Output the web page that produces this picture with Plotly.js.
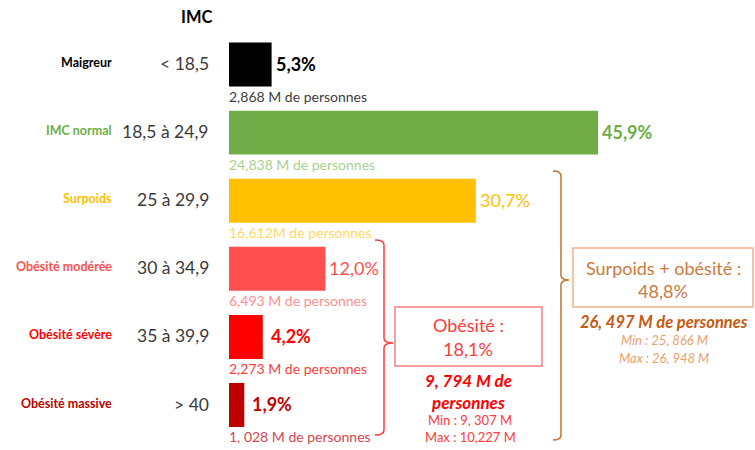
<!DOCTYPE html>
<html>
<head>
<meta charset="utf-8">
<script src="https://cdn.plot.ly/plotly-3.0.1.min.js"></script>
<style>
  html, body { margin: 0; padding: 0; background: #ffffff; }
  #chart { width: 755px; height: 450px; }
</style>
</head>
<body>
<div id="chart"></div>
<script>
// IMC categories, shares and headcounts
const categories = ['Maigreur', 'IMC normal', 'Surpoids', 'Obésité modérée', 'Obésité sévère', 'Obésité massive'];
const imcRanges = ['< 18,5', '18,5 à 24,9', '25 à 29,9', '30 à 34,9', '35 à 39,9', '> 40'];
const shares = [5.3, 45.9, 30.7, 12.0, 4.2, 1.9];
const shareLabels = ['5,3%', '45,9%', '30,7%', '12,0%', '4,2%', '1,9%'];
const shareBold = [true, true, false, false, true, true];
const persons = ['2,868 M de personnes', '24,838 M de personnes', '16,612M de personnes',
    '6,493 M de personnes', '2,273 M de personnes', '1, 028 M de personnes'];
const barColors = ['#000000', '#70AD47', '#FFC000', '#FF5050', '#FF0000', '#C00000'];
const personColors = ['#404040', '#A9D18E', '#FFD966', '#FF8F8F', '#FF4040', '#D94452'];

const FONT = 'Lato, "Open Sans", sans-serif';

// plot area in pixels (margins), used to place the side notes
const M = { l: 229, r: 0, t: 30, b: 4 };
const W = 755 - M.l - M.r;
const H = 450 - M.t - M.b;
const px = x => (x - M.l) / W;
const py = y => (450 - M.b - y) / H;

const trace = {
    type: 'bar',
    orientation: 'h',
    x: shares,
    y: categories,
    width: 0.646,
    marker: { color: barColors },
    hoverinfo: 'skip'
};

const annotations = [];

// column header
annotations.push({
    xref: 'paper', yref: 'paper', x: px(196), y: py(17), xanchor: 'center', yanchor: 'middle',
    text: '<b>IMC</b>', showarrow: false,
    font: { family: FONT, size: 16.5, color: '#000000' }
});

categories.forEach((cat, i) => {
    // category name
    annotations.push({
        xref: 'paper', yref: 'y', x: px(114), y: cat, xanchor: 'right', yanchor: 'middle', yshift: 2,
        text: '<b>' + cat + '</b>', showarrow: false,
        font: { family: FONT, size: 12.5, color: barColors[i] }
    });
    // IMC range
    annotations.push({
        xref: 'paper', yref: 'y', x: px(211), y: cat, xanchor: 'right', yanchor: 'middle', yshift: 1,
        text: imcRanges[i], showarrow: false,
        font: { family: FONT, size: 17.5, color: '#3a3a3a' }
    });
    // share at the end of the bar
    annotations.push({
        xref: 'x', yref: 'y', x: shares[i], y: cat, xanchor: 'left', yanchor: 'middle',
        xshift: shares[i] < 5 ? 6 : 2, yshift: 1,
        text: shareBold[i] ? '<b>' + shareLabels[i] + '</b>' : shareLabels[i], showarrow: false,
        font: { family: FONT, size: 18, color: barColors[i] }
    });
    // headcount under the bar
    annotations.push({
        xref: 'x', yref: 'y', x: 0, y: cat, xanchor: 'left', yanchor: 'middle', xshift: -2, yshift: -31.5,
        text: persons[i], showarrow: false,
        font: { family: FONT, size: 14, color: personColors[i] }
    });
});

// side notes
const orange = '#C5702F';
const orangeLight = '#F4B183';
const red = '#FF3B3B';

const note = (x, y, text, size, color) => ({
    xref: 'paper', yref: 'paper', x: px(x), y: py(y), xanchor: 'center', yanchor: 'middle',
    text: text, showarrow: false,
    font: { family: FONT, size: size, color: color }
});

annotations.push(note(663, 268, 'Surpoids + obésité :', 18, '#C97A3E'));
annotations.push(note(663, 291, '48,8%', 18, '#C97A3E'));
annotations.push(note(664, 322, '<b><i>26, 497 M de personnes</i></b>', 16.5, '#C55A11'));
annotations.push(note(664, 340, '<i>Min : 25, 866 M</i>', 13, '#E9A16C'));
annotations.push(note(664, 358, '<i>Max : 26, 948 M</i>', 13, '#E9A16C'));

annotations.push(note(468, 325, 'Obésité :', 18, red));
annotations.push(note(468, 349, '18,1%', 18, red));
annotations.push(note(468, 380, '<b><i>9, 794 M de</i></b>', 17, '#FF0000'));
annotations.push(note(468, 402, '<b><i>personnes</i></b>', 17, '#FF0000'));
annotations.push(note(470, 420, 'Min : 9, 307 M', 13, red));
annotations.push(note(470, 437, 'Max : 10,227 M', 13, red));

// curly bracket as a path in paper coords
function brace(x, y0, y1, ym, hook, tip) {
    const P = (a, b) => px(a) + ',' + py(b);
    return 'M' + P(x - hook, y0) + ' Q' + P(x, y0) + ' ' + P(x, y0 + 5) +
        ' L' + P(x, ym - 5) + ' Q' + P(x, ym) + ' ' + P(x + tip, ym) +
        ' Q' + P(x, ym) + ' ' + P(x, ym + 5) +
        ' L' + P(x, y1 - 5) + ' Q' + P(x, y1) + ' ' + P(x - hook, y1);
}

const shapes = [
    { type: 'path', xref: 'paper', yref: 'paper', path: brace(561, 171, 440, 280, 8, 8),
      line: { color: orange, width: 1.5 } },
    { type: 'path', xref: 'paper', yref: 'paper', path: brace(384, 240, 435, 343, 9, 9),
      line: { color: red, width: 1.5 } },
    { type: 'rect', xref: 'paper', yref: 'paper', x0: px(573), x1: px(753), y0: py(248), y1: py(307),
      line: { color: orangeLight, width: 1.5 } },
    { type: 'rect', xref: 'paper', yref: 'paper', x0: px(395), x1: px(542), y0: py(307), y1: py(366),
      line: { color: '#FF7C80', width: 1.5 } }
];

const layout = {
    width: 755,
    height: 450,
    margin: M,
    paper_bgcolor: '#ffffff',
    plot_bgcolor: '#ffffff',
    showlegend: false,
    font: { family: FONT },
    xaxis: { range: [0, W / 8.04], visible: false, fixedrange: true },
    yaxis: { type: 'category', range: [5.602, -0.507], visible: false, fixedrange: true },
    annotations: annotations,
    shapes: shapes
};

Plotly.newPlot('chart', [trace], layout, { displayModeBar: false, staticPlot: true });
</script>
</body>
</html>
